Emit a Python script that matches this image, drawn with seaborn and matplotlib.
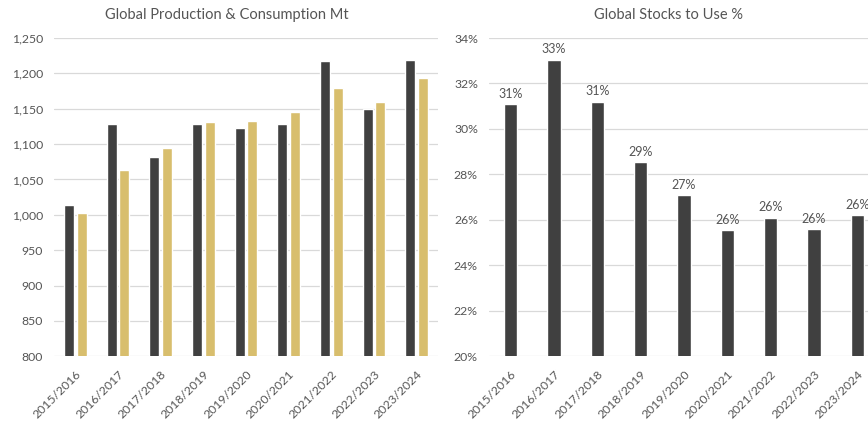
import matplotlib
matplotlib.use("Agg")
import matplotlib.pyplot as plt
from matplotlib.ticker import FuncFormatter, MultipleLocator
import pandas as pd
import seaborn as sns

# Marketing seasons shown on both charts
seasons = ["2015/2016", "2016/2017", "2017/2018", "2018/2019", "2019/2020",
           "2020/2021", "2021/2022", "2022/2023", "2023/2024"]

# Global production and consumption, million tonnes
production = [1014, 1128, 1082, 1128, 1123, 1128, 1217, 1150, 1219]
consumption = [1002, 1064, 1095, 1131, 1133, 1145, 1180, 1160, 1193]

# Global stocks-to-use ratio, percent
stocks_to_use = [31.1, 33.05, 31.2, 28.55, 27.1, 25.56, 26.1, 25.6, 26.2]

DARK = "#404040"
GOLD = "#d8be6d"
TEXT = "#555555"
GRID = "#d9d9d9"

sns.set_theme(style="white")
plt.rcParams["font.family"] = ["Lato", "DejaVu Sans"]

prod_cons = pd.DataFrame({
    "season": seasons * 2,
    "series": ["Production"] * len(seasons) + ["Consumption"] * len(seasons),
    "value": production + consumption,
})
stocks = pd.DataFrame({"season": seasons, "ratio": stocks_to_use})

W, H = 868, 421
fig = plt.figure(figsize=(W / 100, H / 100), dpi=100)
bottom = 1 - 356.3 / H
top = 1 - 38 / H
ax1 = fig.add_axes([54 / W, bottom, 384 / W, top - bottom])
ax2 = fig.add_axes([489 / W, bottom, 390 / W, top - bottom])

sns.barplot(data=prod_cons, x="season", y="value", hue="series",
            palette=[DARK, GOLD], width=0.58, gap=0.19, legend=False,
            saturation=1, ax=ax1)
ax1.set_ylim(800, 1250)
ax1.yaxis.set_major_locator(MultipleLocator(50))
ax1.yaxis.set_major_formatter(FuncFormatter(lambda v, _: f"{v:,.0f}"))

sns.barplot(data=stocks, x="season", y="ratio", color=DARK, width=0.31,
            saturation=1, ax=ax2)
ax2.set_ylim(20, 34)
ax2.yaxis.set_major_locator(MultipleLocator(2))
ax2.yaxis.set_major_formatter(FuncFormatter(lambda v, _: f"{v:.0f}%"))
ax2.bar_label(ax2.containers[0],
              labels=[f"{v:.0f}%" for v in stocks_to_use],
              padding=3, fontsize=9, color=TEXT)

for ax in (ax1, ax2):
    ax.set_xlabel("")
    ax.set_ylabel("")
    ax.set_xlim(-0.5, len(seasons) - 0.5)
    for s in ax.spines.values():
        s.set_visible(False)
    ax.grid(axis="y", color=GRID, linewidth=0.9)
    ax.set_axisbelow(True)
    ax.tick_params(axis="y", length=0, pad=8, labelsize=8.8, labelcolor=TEXT)
    ax.tick_params(axis="x", length=0, pad=9, labelsize=8.8, labelcolor=TEXT)
    for lbl in ax.get_xticklabels():
        lbl.set_rotation(45)
        lbl.set_ha("right")
        lbl.set_rotation_mode("anchor")

fig.text(227 / W, 1 - 15 / H, "Global Production & Consumption Mt",
         ha="center", va="center", fontsize=10.5, color=TEXT)
fig.text(669 / W, 1 - 15 / H, "Global Stocks to Use %",
         ha="center", va="center", fontsize=10.5, color=TEXT)

fig.savefig("out.png", dpi=100, facecolor="white")
